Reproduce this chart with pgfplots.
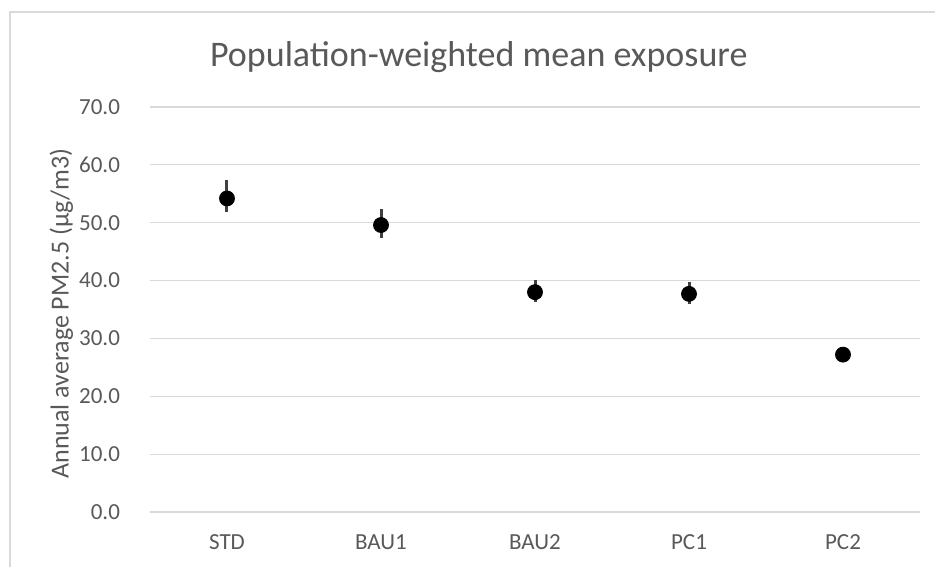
\documentclass[border=0pt]{standalone}
\usepackage{pgfplots}
\pgfplotsset{compat=1.18}
\usepackage{fontspec}
\setmainfont{Carlito}
\definecolor{txt}{HTML}{595959}
\definecolor{grd}{HTML}{D9D9D9}
\definecolor{ebar}{HTML}{404040}
\begin{document}
\begin{tikzpicture}[x=0.5pt,y=0.5pt]
% picture frame 935 x 567 px, axis box lower-left at (150,55) px from bottom-left
\path[use as bounding box] (-150,-55) rectangle (785,512);
\draw[grd, line width=0.9pt] (-140,-55) -- (-140,500) -- (785,500);
\begin{axis}[
    at={(0,0)}, anchor=south west,
    scale only axis,
    width=385pt, height=202.5pt,
    xmin=-0.5, xmax=4.5,
    ymin=0, ymax=70,
    ytick={0,10,...,70},
    xtick={0,1,2,3,4},
    xticklabels={STD,BAU1,BAU2,PC1,PC2},
    axis line style={draw=none},
    major tick length=0pt,
    ymajorgrids=true,
    grid style={grd, line width=0.6pt},
    tick label style={font=\fontsize{11.5}{13}\selectfont, text=txt},
    /pgf/number format/assume math mode=true,
    yticklabel={\pgfmathprintnumber[fixed,fixed zerofill,precision=1]{\tick}},
    yticklabel style={xshift=-11.5pt},
    xticklabel style={yshift=-8pt},
    title={Population-weighted mean exposure},
    title style={font=\fontsize{18}{21}\selectfont, text=txt, at={(axis description cs:0.427,1.0)}, anchor=south, yshift=7.5pt},
    ylabel={Annual average PM2.5 (µg/m3)},
    ylabel style={font=\fontsize{13}{15}\selectfont, text=txt, at={(axis description cs:-0.115,0.49)}, anchor=center},
    clip=false,
]
\addplot[only marks, mark=*, mark size=3.75pt, black,
    error bars/.cd, y dir=both, y explicit,
    error bar style={ebar, line width=1.5pt},
    error mark=none]
    table[x=x, y=y, y error plus=ep, y error minus=em] {
x y ep em
0 54.2 3.1 2.4
1 49.6 2.8 2.2
2 38.0 2.1 1.7
3 37.7 2.1 1.7
4 27.2 0.6 0.6
};
\end{axis}
\end{tikzpicture}
\end{document}
